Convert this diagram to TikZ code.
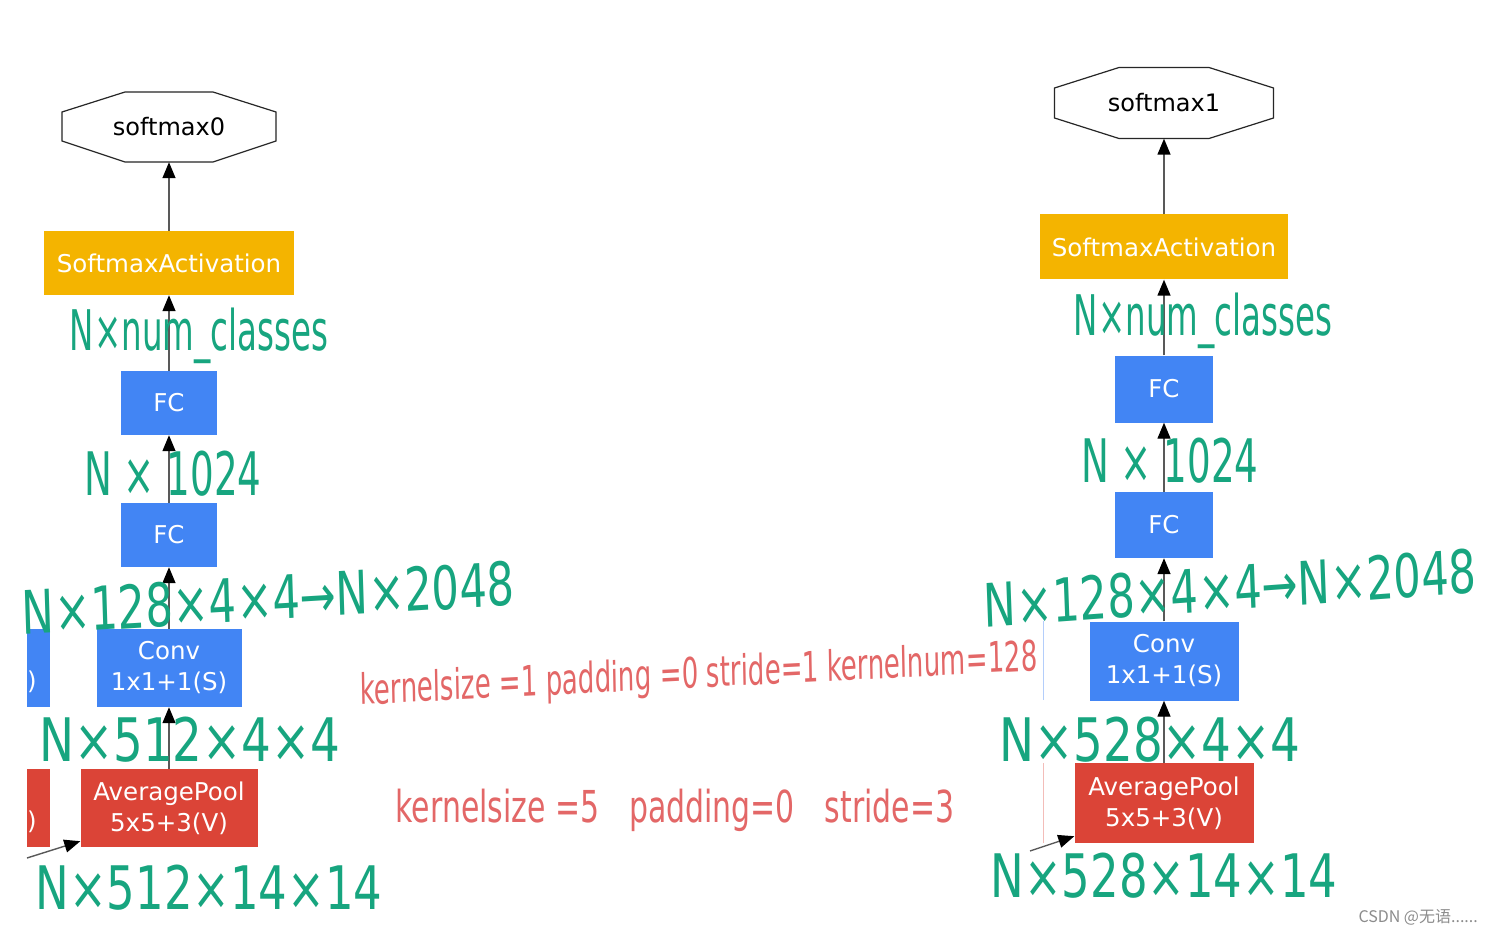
\documentclass[tikz,border=0pt]{standalone}
\usepackage{fontspec}
\setmainfont{DejaVu Sans}
\newfontfamily\hand{DejaVu Sans}
\newfontfamily\cjk{Noto Sans CJK SC}
\usetikzlibrary{arrows.meta,calc}
\definecolor{gblue}{HTML}{4285F4}
\definecolor{gorange}{HTML}{F4B400}
\definecolor{gred}{HTML}{DB4437}
\definecolor{ink}{HTML}{17A57F}
\definecolor{redink}{HTML}{E36767}

\begin{document}
\begin{tikzpicture}[
    x=1pt, y=-1pt,
    box/.style={minimum height=64pt, inner sep=0pt, align=center, text=white, font=\fontsize{24.5}{31}\selectfont},
    fc/.style={box, fill=gblue, minimum width=96pt},
    conv/.style={box, fill=gblue, minimum width=145pt, minimum height=78pt},
    pool/.style={box, fill=gred, minimum width=177pt, minimum height=78pt},
    act/.style={box, fill=gorange, minimum width=250pt},
    outnode/.style={minimum width=214pt, minimum height=70pt, inner sep=0pt, font=\fontsize{24}{28}\selectfont},
    octo/.style={line width=1.2pt, black!85},
    link/.style={-{Triangle[length=16pt,width=13pt,color=black]}, line width=1.4pt, black!65},
    shapenote/.style={text=ink, inner sep=0pt, anchor=base, font=\hand\fontsize{60}{60}\selectfont},
    paramnote/.style={text=redink, inner sep=0pt, font=\hand\fontsize{42}{42}\selectfont}
  ]
  \fill[white] (0,0) rectangle (1492,936);
  \useasboundingbox (0,0) rectangle (1492,936);

  % left branch
  \node[outnode] (s0) at (169,127) {softmax0};
  \draw[octo] (s0.center) ++(-44,-35) -- ++(88,0) -- ++(63,20) -- ++(0,29) -- ++(-63,21) -- ++(-88,0) -- ++(-63,-21) -- ++(0,-29) -- cycle;
  \node[act] (sa0) at (169,263) {SoftmaxActivation};
  \node[fc] (fc0b) at (169,403) {FC};
  \node[fc] (fc0a) at (169,535) {FC};
  \node[conv] (conv0) at (169,668) {Conv\\1x1+1(S)};
  \node[pool] (pool0) at (169,808) {AveragePool\\5x5+3(V)};
  \node[box, fill=gblue, minimum width=23pt, minimum height=78pt] (convL) at (38.5,668) {};
  \node[box, anchor=west] (convLt) at (27,682) {)};
  \node[box, fill=gred, minimum width=23pt, minimum height=78pt] (poolL) at (38.5,808) {};
  \node[box, anchor=west] (poolLt) at (27,822) {)};
  \coordinate (in0) at (27,858);

  \draw[link] (sa0) -- (s0);
  \draw[link] (fc0b) -- (sa0);
  \draw[link] (fc0a) -- (fc0b);
  \draw[link] (conv0) -- (fc0a);
  \draw[link] (pool0) -- (conv0);
  \draw[link] (in0) -- ([yshift=6pt]pool0.south west);

  % right branch
  \node[outnode, minimum width=219pt, minimum height=71pt] (s1) at (1164,103) {softmax1};
  \draw[octo] (s1.center) ++(-45,-35.5) -- ++(90,0) -- ++(64.5,20.5) -- ++(0,30) -- ++(-64.5,20.5) -- ++(-90,0) -- ++(-64.5,-20.5) -- ++(0,-30) -- cycle;
  \node[act, minimum width=248pt, minimum height=65pt] (sa1) at (1164,247) {SoftmaxActivation};
  \node[fc, minimum width=98pt, minimum height=67pt] (fc1b) at (1164,389) {FC};
  \node[fc, minimum width=98pt, minimum height=66pt] (fc1a) at (1164,525) {FC};
  \node[conv, minimum width=149pt, minimum height=79pt] (conv1) at (1164,661) {Conv\\1x1+1(S)};
  \node[pool, minimum width=179pt, minimum height=80pt] (pool1) at (1164,803) {AveragePool\\5x5+3(V)};
  \draw[gblue!40, line width=1pt] (1043,621) -- (1043,700);
  \draw[gred!35, line width=1pt] (1043,763) -- (1043,843);
  \coordinate (in1) at (1030,851);

  \draw[link] (sa1) -- (s1);
  \draw[link] (fc1b) -- (sa1);
  \draw[link] (fc1a) -- (fc1b);
  \draw[link] (conv1) -- (fc1a);
  \draw[link] (pool1) -- (conv1);
  \draw[link] (in1) -- ([yshift=7pt]pool1.south west);

  % handwritten shapes
  \node[shapenote, xscale=0.58, font=\hand\fontsize{56}{56}\selectfont] (dimA0) at (199,350) {N×num\_classes};
  \node[shapenote, xscale=0.62] (dimB0) at (173,495) {N × 1024};
  \node[shapenote, xscale=0.72, rotate=2.5] (dimC0) at (269,620) {N×128×4×4→N×2048};
  \node[shapenote, xscale=0.78] (dimD0) at (190,761) {N×512×4×4};
  \node[shapenote, xscale=0.75] (dimE0) at (209,909) {N×512×14×14};

  \node[shapenote, xscale=0.58, font=\hand\fontsize{56}{56}\selectfont] (dimA1) at (1203,335) {N×num\_classes};
  \node[shapenote, xscale=0.62] (dimB1) at (1170,482) {N × 1024};
  \node[shapenote, xscale=0.72, rotate=3] (dimC1) at (1231,610) {N×128×4×4→N×2048};
  \node[shapenote, xscale=0.78] (dimD1) at (1150,761) {N×528×4×4};
  \node[shapenote, xscale=0.75] (dimE1) at (1164,897) {N×528×14×14};

  % handwritten parameters
  \node[paramnote, xscale=0.62, rotate=1.8] (convparam) at (699,676) {kernelsize =1 padding =0 stride=1 kernelnum=128};
  \node[paramnote, xscale=0.68, font=\hand\fontsize{44}{44}\selectfont] (poolparam) at (675,810) {kernelsize =5\quad padding=0\quad stride=3};

  \node[text=black!45, inner sep=0pt, anchor=east, font=\cjk\fontsize{16}{16}\selectfont] (mark) at (1478,917) {CSDN @无语......};
\end{tikzpicture}
\end{document}
